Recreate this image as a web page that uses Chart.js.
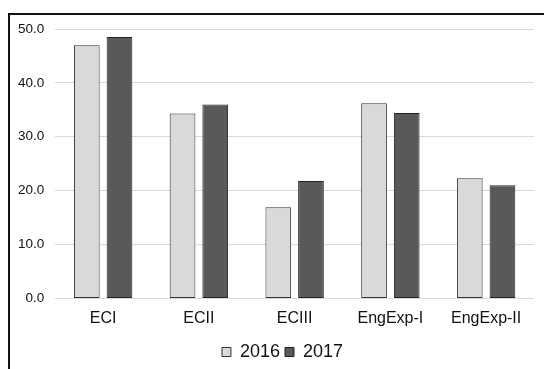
<!DOCTYPE html>
<html>
<head>
<meta charset="utf-8">
<script src="https://cdn.jsdelivr.net/npm/chart.js@4/dist/chart.umd.min.js"></script>
<style>
  html, body { margin: 0; padding: 0; background: #fff; }
  #wrap { position: relative; width: 544px; height: 369px; overflow: hidden; }
  #frame {
    position: absolute; left: 8px; top: 13px; width: 600px; height: 400px;
    border-left: 2px solid #111; border-top: 2px solid #111;
  }
  #c { position: absolute; left: 0; top: 0; }
</style>
</head>
<body>
<div id="wrap">
  <div id="frame"></div>
  <canvas id="c" width="544" height="369"></canvas>
</div>
<script>
// Programme categories and yearly scores
const categories = ["ECI", "ECII", "ECIII", "EngExp-I", "EngExp-II"];
const seriesNames = ["2016", "2017"];
const values2016 = [47.0, 34.3, 16.9, 36.2, 22.3];
const values2017 = [48.5, 36.0, 21.8, 34.4, 21.0];
const yTicks = [0, 10, 20, 30, 40, 50];

const FONT = "'Liberation Sans', Arial, sans-serif";

// The legend sits slightly right of the canvas centre (the frame runs on past the right edge)
const legendOffset = {
  id: "legendOffset",
  afterLayout(chart) {
    if (chart.legend) {
      chart.legend.left += 12;
      chart.legend.right += 12;
    }
  }
};

new Chart(document.getElementById("c"), {
  type: "bar",
  data: {
    labels: categories,
    datasets: [
      {
        label: seriesNames[0],
        data: values2016,
        backgroundColor: "#d9d9d9",
        borderColor: "#333",
        borderWidth: 1,
        borderSkipped: false,
        categoryPercentage: 0.683,
        barPercentage: 0.786
      },
      {
        label: seriesNames[1],
        data: values2017,
        backgroundColor: "#595959",
        borderColor: "#222",
        borderWidth: 1,
        borderSkipped: false,
        categoryPercentage: 0.683,
        barPercentage: 0.786
      }
    ]
  },
  options: {
    responsive: false,
    animation: false,
    layout: { padding: { top: 29, right: 10, bottom: -2, left: 7 } },
    plugins: {
      tooltip: { enabled: false },
      legend: {
        position: "bottom",
        labels: {
          color: "#111",
          font: { family: FONT, size: 18 },
          boxWidth: 9,
          boxHeight: 9,
          padding: 5
        }
      }
    },
    scales: {
      x: {
        grid: { display: false, drawTicks: false },
        border: { display: false },
        ticks: {
          color: "#111",
          font: { family: FONT, size: 16, lineHeight: 0.85 },
          padding: 13
        }
      },
      y: {
        min: yTicks[0],
        max: yTicks[yTicks.length - 1],
        afterBuildTicks: (axis) => { axis.ticks = yTicks.map(v => ({ value: v })); },
        grid: { color: "#d9d9d9", lineWidth: 1, drawTicks: false },
        border: { display: false },
        ticks: {
          color: "#111",
          font: { family: FONT, size: 13.5 },
          padding: 11,
          callback: (v) => Number(v).toFixed(1)
        }
      }
    }
  },
  plugins: [legendOffset]
});
</script>
</body>
</html>
